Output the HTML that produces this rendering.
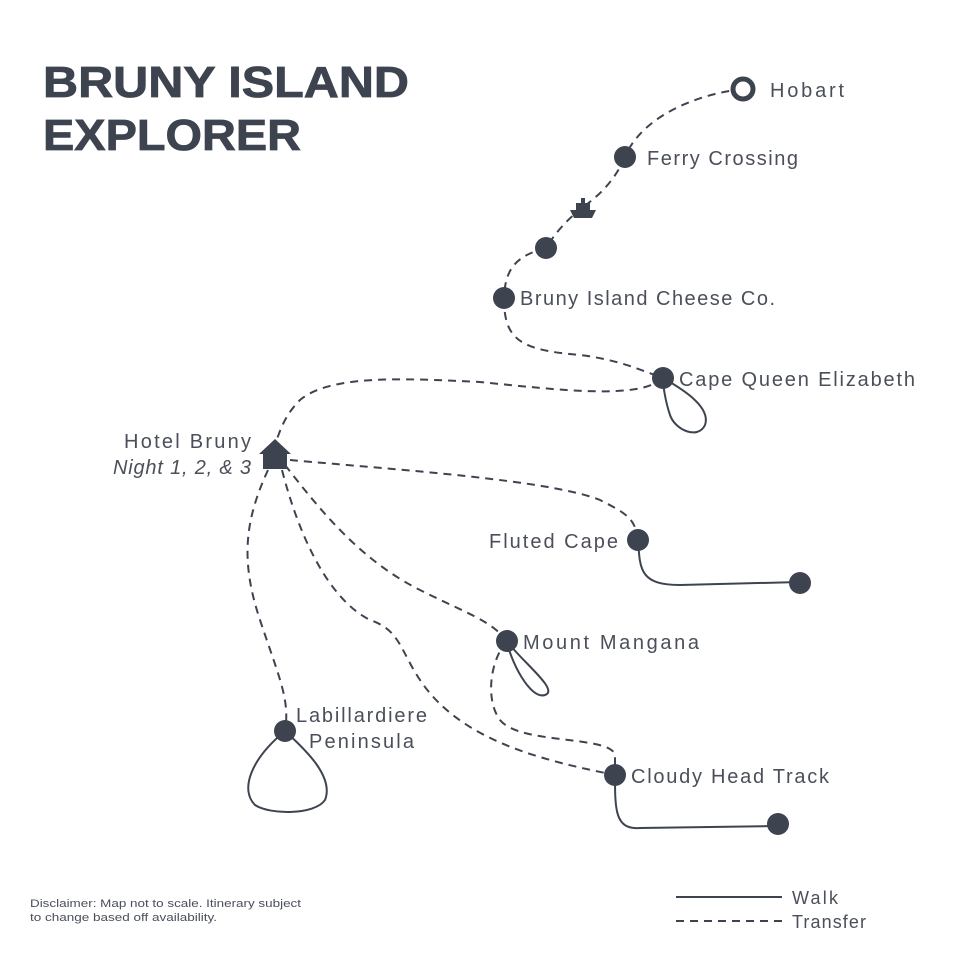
<!DOCTYPE html>
<html><head><meta charset="utf-8"><style>
html,body{margin:0;padding:0;background:#fff;}
svg{display:block;}
text{font-family:"Liberation Sans",sans-serif;fill:#4a4f5a;}
</style></head><body>
<svg width="960" height="960" viewBox="0 0 960 960" xmlns="http://www.w3.org/2000/svg">
<g fill="none" stroke="#3d4450" stroke-width="2">
<g stroke-dasharray="8,6">
<path d="M743,89 C690,95 640,120 625,157"/>
<path d="M625,157 C615,180 600,195 583,207"/>
<path d="M583,207 Q560,225 546,248"/>
<path d="M546,248 C520,255 505,265 504,298"/>
<path d="M504,298 C504,340 520,350 580,355 C620,360 640,370 663,378"/>
<path d="M663,378 C640,400 560,390 480,382 C400,378 330,375 300,400 C285,415 280,430 275,445"/>
<path d="M290,460 C400,470 550,480 600,500 C630,515 635,520 638,540"/>
<path d="M285,465 C320,510 360,560 420,590 C470,615 490,620 507,641"/>
<path d="M507,641 C490,660 485,700 500,720 C520,745 610,735 615,755 L615,775"/>
<path d="M282,470 C300,540 330,600 370,620 C400,630 400,650 420,680 C460,740 540,760 615,775"/>
<path d="M268,470 C245,520 240,560 260,620 C280,680 290,700 285,731"/>
<path d="M676,921 L782,921"/>
</g>
<path d="M663,378 C675,385 712,405 705,425 C698,440 675,430 670,415 C665,400 663,385 663,378"/>
<path d="M638,540 C640,570 640,585 680,585 L800,582"/>
<path d="M507,641 C520,660 560,690 545,695 C530,700 510,660 507,641"/>
<path d="M615,775 C615,810 615,830 640,828 L778,826"/>
<path d="M285,731 C250,760 240,790 255,805 C270,815 315,815 325,800 C335,775 300,745 285,731"/>
<path d="M676,897 L782,897"/>
<circle cx="743" cy="89" r="10" stroke-width="5" fill="#fff"/>
</g>
<g fill="#3d4450">
<circle cx="625" cy="157" r="11"/>
<circle cx="546" cy="248" r="11"/>
<circle cx="504" cy="298" r="11"/>
<circle cx="663" cy="378" r="11"/>
<circle cx="638" cy="540" r="11"/>
<circle cx="800" cy="583" r="11"/>
<circle cx="507" cy="641" r="11"/>
<circle cx="615" cy="775" r="11"/>
<circle cx="778" cy="824" r="11"/>
<circle cx="285" cy="731" r="11"/>
<path d="M259,454 L275,439 L291,454 L287,454 L287,469 L263,469 L263,454 Z"/>
<path d="M570,210 L596,210 L592,218 L574,218 Z M576,203 L590,203 L590,210 L576,210 Z M581,198 L585,198 L585,203 L581,203 Z"/>
</g>
<g style="fill:#3d4450" stroke="#3d4450" stroke-width="0.8" font-size="44" font-weight="bold">
<text x="43" y="97" style="fill:#3d4450" textLength="366" lengthAdjust="spacingAndGlyphs">BRUNY ISLAND</text>
<text x="43" y="150" style="fill:#3d4450" textLength="258" lengthAdjust="spacingAndGlyphs">EXPLORER</text>
</g>
<g font-size="20" lengthAdjust="spacingAndGlyphs">
<text x="770" y="97" textLength="74">Hobart</text>
<text x="647" y="165" textLength="151">Ferry Crossing</text>
<text x="520" y="305" textLength="255">Bruny Island Cheese Co.</text>
<text x="679" y="386" textLength="236">Cape Queen Elizabeth</text>
<text x="124" y="448" textLength="127">Hotel Bruny</text>
<text x="113" y="474" font-style="italic" textLength="138">Night 1, 2, &amp; 3</text>
<text x="489" y="548" textLength="129">Fluted Cape</text>
<text x="523" y="649" textLength="176">Mount Mangana</text>
<text x="631" y="783" textLength="198">Cloudy Head Track</text>
<text x="296" y="722" textLength="131">Labillardiere</text>
<text x="309" y="748" textLength="105">Peninsula</text>
<text x="792" y="904" font-size="18" textLength="46">Walk</text>
<text x="792" y="928" font-size="18" textLength="74">Transfer</text>
</g>
<text x="30" y="907" font-size="11" textLength="271" lengthAdjust="spacingAndGlyphs">Disclaimer: Map not to scale. Itinerary subject</text>
<text x="30" y="921" font-size="11" textLength="187" lengthAdjust="spacingAndGlyphs">to change based off availability.</text>
</svg>
</body></html>
